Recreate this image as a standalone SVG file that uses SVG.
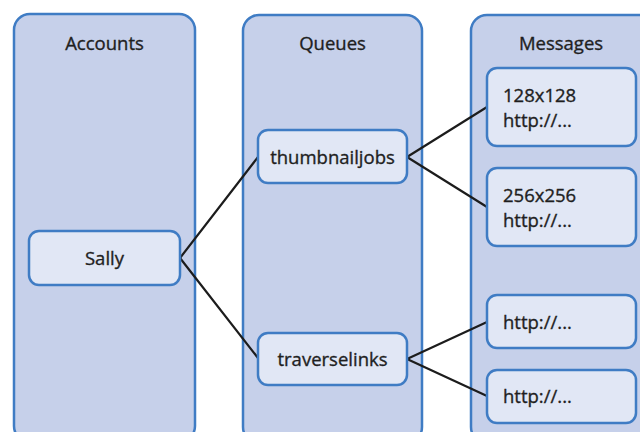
<svg xmlns="http://www.w3.org/2000/svg" width="640" height="432" viewBox="0 0 640 432">
  <style>
    .col { fill: #c6d0ea; stroke: #3f7cc4; stroke-width: 2.5; }
    .box { fill: #e1e7f5; stroke: #3f7cc4; stroke-width: 2.5; }
    text { font-family: "Open Sans", "Liberation Sans", sans-serif; font-size: 18.5px; fill: #1f1f1f; stroke: #1f1f1f; stroke-width: 0.35; }
    .mid { text-anchor: middle; }
    .conn { fill: none; stroke: #1c1c1c; stroke-width: 2.2; stroke-linecap: round; }
  </style>
  <rect width="640" height="432" fill="#ffffff"/>

  <!-- Columns -->
  <g id="accounts">
    <rect class="col" x="14" y="14" width="181" height="428" rx="16"/>
    <text class="mid" x="104.5" y="50">Accounts</text>
  </g>
  <g id="queues">
    <rect class="col" x="243" y="15" width="179" height="428" rx="16"/>
    <text class="mid" x="332.5" y="50">Queues</text>
  </g>
  <g id="messages">
    <rect class="col" x="471" y="15" width="190" height="428" rx="16"/>
    <text class="mid" x="561" y="50">Messages</text>
  </g>

  <!-- Connectors -->
  <g id="connectors">
    <line class="conn" x1="180" y1="258" x2="258" y2="157"/>
    <line class="conn" x1="180" y1="258" x2="258" y2="358"/>
    <line class="conn" x1="407" y1="157" x2="487" y2="107"/>
    <line class="conn" x1="407" y1="157" x2="487" y2="207"/>
    <line class="conn" x1="407" y1="359" x2="487" y2="322"/>
    <line class="conn" x1="407" y1="359" x2="487" y2="396"/>
  </g>

  <!-- Nodes -->
  <g id="sally">
    <rect class="box" x="29" y="231" width="151" height="54" rx="10"/>
    <text class="mid" x="104.5" y="265">Sally</text>
  </g>
  <g id="thumbnailjobs">
    <rect class="box" x="258" y="130" width="149" height="53" rx="10"/>
    <text class="mid" x="332.5" y="164">thumbnailjobs</text>
  </g>
  <g id="traverselinks">
    <rect class="box" x="258" y="333" width="149" height="52" rx="10"/>
    <text class="mid" x="332.5" y="366">traverselinks</text>
  </g>
  <g id="msg-128">
    <rect class="box" x="487" y="68" width="149" height="78" rx="10"/>
    <text x="503" y="102">128x128</text>
    <text x="503" y="127">http://...</text>
  </g>
  <g id="msg-256">
    <rect class="box" x="487" y="168" width="149" height="78" rx="10"/>
    <text x="503" y="202">256x256</text>
    <text x="503" y="227">http://...</text>
  </g>
  <g id="msg-link1">
    <rect class="box" x="487" y="295" width="149" height="53" rx="10"/>
    <text x="503" y="329">http://...</text>
  </g>
  <g id="msg-link2">
    <rect class="box" x="487" y="370" width="149" height="53" rx="10"/>
    <text x="503" y="403">http://...</text>
  </g>
</svg>
